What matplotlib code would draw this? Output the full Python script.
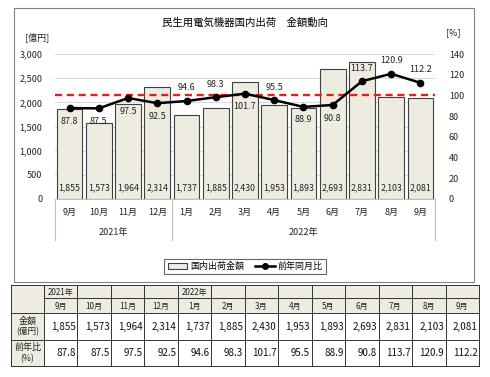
import matplotlib
matplotlib.use('Agg')
import matplotlib.pyplot as plt
from matplotlib.patches import Rectangle
from matplotlib.lines import Line2D
from matplotlib.patches import Patch

plt.rcParams['font.family'] = ['Noto Sans CJK JP', 'DejaVu Sans']

# ---------------- data ----------------
title = '民生用電気機器国内出荷　金額動向'
months = ['9月', '10月', '11月', '12月', '1月', '2月', '3月', '4月', '5月', '6月', '7月', '8月', '9月']
years = ['2021年', '2022年']
year_first_idx = [0, 4]
amounts = [1855, 1573, 1964, 2314, 1737, 1885, 2430, 1953, 1893, 2693, 2831, 2103, 2081]
ratios = [87.8, 87.5, 97.5, 92.5, 94.6, 98.3, 101.7, 95.5, 88.9, 90.8, 113.7, 120.9, 112.2]
ratio_label_above = [False, False, False, False, True, True, False, True, False, False, True, True, True]
baseline = 100
left_ticks = [0, 500, 1000, 1500, 2000, 2500, 3000]
right_ticks = [0, 20, 40, 60, 80, 100, 120, 140]
bar_name = '国内出荷金額'
line_name = '前年同月比'
row_labels = [('金額', '(億円)'), ('前年比', '(%)')]

W, H = 490, 377
BAR_FILL = '#EEECE1'
EDGE = '#404040'

fig = plt.figure(figsize=(W / 100, H / 100), dpi=100)
fig.patch.set_facecolor('white')

def fx(px):
    return px / W

def fy(py):
    return 1 - py / H

# chart frame
fig.patches.append(Rectangle((fx(14), fy(282)), (474 - 14) / W, (282 - 8) / H,
                             transform=fig.transFigure, fill=False, ec='#808080', lw=0.8))

fig.text(fx(245), fy(23), title, ha='center', va='center', fontsize=7.5)

ax = fig.add_axes([fx(55), fy(199), (435 - 55) / W, (199 - 54) / H])
x = list(range(len(months)))
ax.bar(x, amounts, width=0.88, color=BAR_FILL, edgecolor=EDGE, lw=0.8, zorder=2)
ax.set_xlim(-0.5, len(months) - 0.5)
ax.set_ylim(0, 3000)
ax.set_yticks(left_ticks)
ax.set_yticklabels([f'{v:,}' for v in left_ticks])
ax.grid(axis='y', color='#D9D9D9', lw=0.8)
ax.set_axisbelow(True)
for s in ['top', 'right', 'left']:
    ax.spines[s].set_visible(False)
ax.spines['bottom'].set_color('#BFBFBF')
ax.spines['bottom'].set_linewidth(0.8)
ax.tick_params(axis='y', length=0, labelsize=6.5, pad=9, colors='#222222')
ax.set_xticks([])

for i, a in enumerate(amounts):
    ax.annotate(f'{a:,}', (i, 0), xytext=(0, 8), textcoords='offset points',
                ha='center', va='center', fontsize=6.3, color='#222222', zorder=5)

for i, m in enumerate(months):
    ax.annotate(m, (i, 0), xytext=(0, -9.6), textcoords='offset points',
                ha='center', va='center', fontsize=6.5, color='#222222', annotation_clip=False)

group_bounds = year_first_idx + [len(months)]
for k, yname in enumerate(years):
    c = (group_bounds[k] + group_bounds[k + 1] - 1) / 2
    ax.annotate(yname, (c, 0), xytext=(0, -24), textcoords='offset points',
                ha='center', va='center', fontsize=6.5, color='#222222', annotation_clip=False)

sep_tr = ax.get_xaxis_transform()
for b in group_bounds:
    ax.plot([b - 0.5, b - 0.5], [0, -41 / 145], transform=sep_tr, color='#BFBFBF',
            lw=0.8, clip_on=False)

fig.text(fx(37), fy(37), '[億円]', ha='center', va='center', fontsize=6.5, color='#222222')
fig.text(fx(453), fy(33), '[%]', ha='center', va='center', fontsize=6.5, color='#222222')

ax2 = ax.twinx()
ax2.set_ylim(0, 140)
ax2.set_yticks(right_ticks)
for s in ['top', 'right', 'left', 'bottom']:
    ax2.spines[s].set_visible(False)
ax2.tick_params(axis='y', length=0, labelsize=6.5, pad=10, colors='#222222')
ax2.axhline(baseline, color='#E0201B', lw=1.7, ls=(0, (3, 2)), zorder=3)
ax2.plot(x, ratios, color='black', lw=1.8, marker='o', ms=4.5, zorder=4)
for i, r in enumerate(ratios):
    dy = 9.4 if ratio_label_above[i] else -9.4
    ax2.annotate(f'{r:.1f}', (i, r), xytext=(0, dy), textcoords='offset points',
                 ha='center', va='center', fontsize=6.5, color='#222222', zorder=6)

handles = [Patch(facecolor=BAR_FILL, edgecolor=EDGE, lw=0.8),
           Line2D([0], [0], color='black', lw=1.8, marker='o', ms=4)]
leg = fig.legend(handles, [bar_name, line_name], loc='center',
                 bbox_to_anchor=(fx(245), fy(266.5)), ncol=2, fontsize=6.5,
                 frameon=True, fancybox=False, edgecolor='#404040',
                 handlelength=2.2, handleheight=0.6, columnspacing=1.2,
                 borderpad=0.35, handletextpad=0.3)
leg.get_frame().set_linewidth(0.8)

# ---------------- table ----------------
TL, TT, TR, TB = 11, 285, 479, 366
tax = fig.add_axes([fx(TL), fy(TB), (TR - TL) / W, (TB - TT) / H])
tax.set_xlim(0, TR - TL)
tax.set_ylim(TB - TT, 0)
tax.axis('off')
first_w = 33
ncol = len(months)
col_w = (TR - TL - first_w) / ncol
col_edges = [0] + [first_w + col_w * k for k in range(ncol + 1)]
row_edges = [0, 13, 28, 54.5, 81]

# fills
tax.add_patch(Rectangle((0, 0), TR - TL, row_edges[2], color=BAR_FILL, lw=0))
tax.add_patch(Rectangle((0, 0), first_w, row_edges[4], color=BAR_FILL, lw=0))

LC = '#333333'
for yv in row_edges:
    x0 = first_w if yv == row_edges[1] else 0
    tax.plot([x0, TR - TL], [yv, yv], color=LC, lw=0.7, clip_on=False)
for xv in col_edges:
    tax.plot([xv, xv], [0, row_edges[4]], color=LC, lw=0.7, clip_on=False)

for k, yname in enumerate(years):
    c = year_first_idx[k]
    tax.text((col_edges[c + 1] + col_edges[c + 2]) / 2, (row_edges[0] + row_edges[1]) / 2 + 0.5,
             yname, ha='center', va='center', fontsize=5.8, color='#222222')
for i, m in enumerate(months):
    tax.text((col_edges[i + 1] + col_edges[i + 2]) / 2, (row_edges[1] + row_edges[2]) / 2 + 0.5,
             m, ha='center', va='center', fontsize=5.8, color='#222222')
for i in range(ncol):
    tax.text(col_edges[i + 2] - 1.5, (row_edges[2] + row_edges[3]) / 2 + 0.5,
             f'{amounts[i]:,}', ha='right', va='center', fontsize=7.1, color='#111111')
    tax.text(col_edges[i + 2] - 1.5, (row_edges[3] + row_edges[4]) / 2 + 0.5,
             f'{ratios[i]:.1f}', ha='right', va='center', fontsize=7.1, color='#111111')
for j, (l1, l2) in enumerate(row_labels):
    cy = (row_edges[2 + j] + row_edges[3 + j]) / 2
    tax.text(first_w / 2, cy - 5, l1, ha='center', va='center', fontsize=6.5, color='#222222')
    tax.text(first_w / 2, cy + 5.5, l2, ha='center', va='center', fontsize=6.2, color='#222222')

fig.savefig('out.png', dpi=100)
